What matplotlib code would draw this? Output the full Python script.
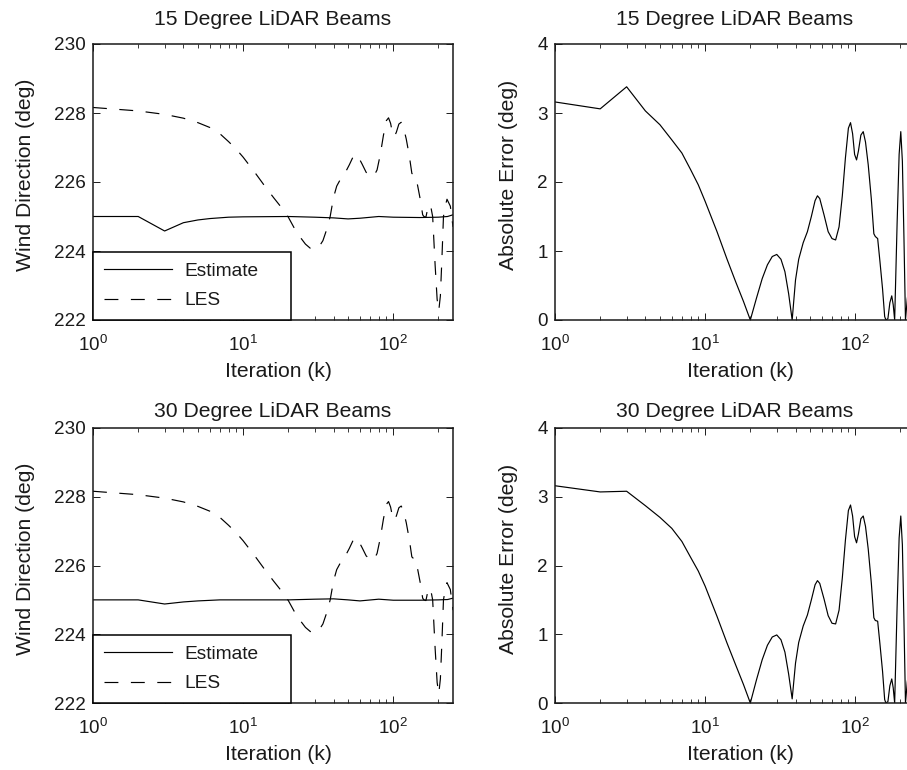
import matplotlib
matplotlib.use("Agg")
import matplotlib.pyplot as plt

plt.rcParams['font.family'] = ['Liberation Sans', 'DejaVu Sans']
plt.rcParams['mathtext.fontset'] = 'custom'
plt.rcParams['mathtext.rm'] = 'Liberation Sans'
plt.rcParams['mathtext.it'] = 'Liberation Sans:italic'
plt.rcParams['lines.scale_dashes'] = False

# ---------------- data ----------------
titles = ["15 Degree LiDAR Beams", "30 Degree LiDAR Beams"]
legend_labels = ["Estimate", "LES"]
xlabel = "Iteration (k)"
ylabel_left = "Wind Direction (deg)"
ylabel_right = "Absolute Error (deg)"

# LES wind direction (same reference in both rows)
les_k = [1, 2, 3, 4, 5, 6, 7, 8, 9, 10, 12, 14, 16, 18, 20, 22, 24, 26, 28, 30,
         32, 34, 36, 38, 40, 42, 45, 48, 51, 54, 56, 58, 62, 66, 70, 74, 78, 82,
         86, 90, 93, 96, 99, 102, 105, 109, 113, 117, 122, 128, 133, 136, 141,
         146, 152, 157, 160, 165, 170, 175, 179, 183, 190, 196, 201, 206, 211,
         216, 222, 228, 240, 250]
les_val = [228.16, 228.06, 227.96, 227.85, 227.72, 227.58, 227.40, 227.17, 226.95,
           226.72, 226.27, 225.87, 225.54, 225.26, 224.98, 224.65, 224.40, 224.20,
           224.08, 224.05, 224.12, 224.30, 224.62, 225.00, 225.55, 225.88, 226.12,
           226.28, 226.50, 226.73, 226.80, 226.76, 226.52, 226.28, 226.18, 226.16,
           226.35, 226.80, 227.35, 227.78, 227.86, 227.70, 227.40, 227.32, 227.45,
           227.68, 227.73, 227.58, 227.25, 226.75, 226.25, 226.21, 226.18, 225.85,
           225.45, 225.05, 225.00, 224.98, 225.25, 225.35, 225.22, 225.00, 223.60,
           222.60, 222.27, 222.70, 223.80, 225.00, 225.30, 225.50, 225.30, 224.70]

# Estimates
est15_k = [1, 2, 3, 4, 5, 6, 8, 10, 20, 30, 40, 50, 60, 80, 100, 150, 200, 230, 250]
est15_val = [225.0, 225.0, 224.58, 224.82, 224.90, 224.94, 224.98, 224.99, 225.0,
             224.98, 224.96, 224.93, 224.95, 225.0, 224.98, 224.97, 224.98, 225.0, 225.05]
est30_k = [1, 2, 3, 4, 5, 7, 10, 20, 30, 40, 50, 60, 80, 100, 150, 200, 230, 250]
est30_val = [225.0, 225.0, 224.88, 224.94, 224.97, 225.0, 225.0, 225.0, 225.02,
             225.03, 225.0, 224.97, 225.02, 224.99, 224.99, 225.0, 225.01, 225.05]

# Absolute errors
err15_k = [1, 2, 3, 4, 5, 6, 7, 8, 9, 10, 12, 14, 16, 18, 20, 22, 24, 26, 28, 30,
           32, 34, 36, 38, 40, 42, 45, 48, 51, 54, 56, 58, 62, 66, 70, 74, 78, 82,
           86, 90, 93, 96, 99, 102, 105, 109, 113, 117, 122, 128, 133, 136, 141,
           146, 152, 157, 160, 165, 170, 175, 179, 183, 190, 196, 201, 206, 211,
           216, 222, 228, 240, 250]
err15_val = [3.16, 3.06, 3.38, 3.03, 2.83, 2.61, 2.42, 2.18, 1.96, 1.72, 1.28, 0.88,
             0.55, 0.27, 0.0, 0.32, 0.60, 0.80, 0.92, 0.95, 0.88, 0.70, 0.38, 0.0,
             0.58, 0.88, 1.12, 1.28, 1.50, 1.73, 1.80, 1.76, 1.52, 1.28, 1.18, 1.16,
             1.35, 1.80, 2.35, 2.78, 2.86, 2.70, 2.40, 2.32, 2.45, 2.68, 2.73, 2.58,
             2.25, 1.75, 1.25, 1.21, 1.18, 0.85, 0.45, 0.05, 0.0, 0.02, 0.25, 0.35,
             0.22, 0.0, 1.40, 2.40, 2.73, 2.30, 1.20, 0.0, 0.30, 0.50, 0.30, 0.30]
err30_k = err15_k
err30_val = [3.16, 3.07, 3.08, 2.87, 2.70, 2.54, 2.35, 2.12, 1.92, 1.70, 1.26, 0.87,
             0.55, 0.27, 0.0, 0.34, 0.63, 0.84, 0.96, 0.99, 0.92, 0.74, 0.42, 0.06,
             0.58, 0.88, 1.12, 1.28, 1.50, 1.72, 1.78, 1.74, 1.51, 1.27, 1.16, 1.15,
             1.35, 1.82, 2.37, 2.80, 2.88, 2.72, 2.42, 2.33, 2.46, 2.68, 2.72, 2.57,
             2.24, 1.74, 1.24, 1.20, 1.19, 0.86, 0.46, 0.05, 0.0, 0.02, 0.25, 0.35,
             0.22, 0.0, 1.40, 2.40, 2.72, 2.30, 1.20, 0.0, 0.30, 0.50, 0.30, 0.30]

left_ylim = (222, 230)
left_yticks = [222, 224, 226, 228, 230]
right_ylim = (0, 4)
right_yticks = [0, 1, 2, 3, 4]
xlim = (1, 250)

# ---------------- figure ----------------
W, H = 907, 770
fig = plt.figure(figsize=(W / 100, H / 100), dpi=100)

def frac(l, t, r, b):
    return [l / W, 1 - b / H, (r - l) / W, (b - t) / H]

ax_tl = fig.add_axes(frac(93, 44, 453, 320))
ax_tr = fig.add_axes(frac(555, 44, 915, 320))
ax_bl = fig.add_axes(frac(93, 428, 453, 703))
ax_br = fig.add_axes(frac(555, 428, 915, 703))

FS = 15.2     # titles / axis labels
TFS = 13.6    # tick labels
LFS = 13.8    # legend
TXT = '#1a1a1a'
lw = 0.85
dash = (0, (10, 9))

def style(ax, ylim, yticks, ylabel, title, tpad):
    ax.set_xscale('log')
    ax.set_xlim(*xlim)
    ax.set_ylim(*ylim)
    ax.set_yticks(yticks)
    ax.tick_params(which='both', direction='in', top=True, right=True,
                   labelsize=TFS, colors=TXT)
    ax.tick_params(which='major', length=5, width=0.7)
    ax.tick_params(axis='x', which='major', pad=11)
    ax.tick_params(axis='y', which='major', pad=5)
    ax.tick_params(which='minor', length=3, width=0.6)
    ax.tick_params(axis='y', which='minor', left=False, right=False)
    for s in ax.spines.values():
        s.set_linewidth(1.1)
        s.set_color(TXT)
    ax.set_xlabel(xlabel, fontsize=FS, labelpad=5, color=TXT)
    ax.set_ylabel(ylabel, fontsize=FS, labelpad=14, color=TXT)
    ax.xaxis.label.set_x(0.515)
    ax.yaxis.label.set_y(0.525)
    ax.set_title(title, fontsize=FS, pad=tpad, color=TXT)

for ax, est_k, est_v, title, tpad in [(ax_tl, est15_k, est15_val, titles[0], 13.5),
                                      (ax_bl, est30_k, est30_val, titles[1], 8)]:
    ax.plot(est_k, est_v, color='black', lw=lw, label=legend_labels[0])
    ax.plot(les_k, les_val, color='black', lw=lw, linestyle=dash, label=legend_labels[1])
    style(ax, left_ylim, left_yticks, ylabel_left, title, tpad)
    leg = ax.legend(loc='lower left', bbox_to_anchor=(0, 0, 0.549, 0.25),
                    mode='expand', borderaxespad=0, fancybox=False,
                    edgecolor='black', framealpha=1, fontsize=LFS,
                    handlelength=3.58, handletextpad=0.62, borderpad=0.55,
                    labelspacing=0.63)
    leg.get_frame().set_linewidth(1.1)
    for t in leg.get_texts():
        t.set_color(TXT)

for ax, ek, ev, title, tpad in [(ax_tr, err15_k, err15_val, titles[0], 13.5),
                                (ax_br, err30_k, err30_val, titles[1], 8)]:
    ax.plot(ek, ev, color='black', lw=lw)
    style(ax, right_ylim, right_yticks, ylabel_right, title, tpad)

fig.savefig("out.png", dpi=100)
